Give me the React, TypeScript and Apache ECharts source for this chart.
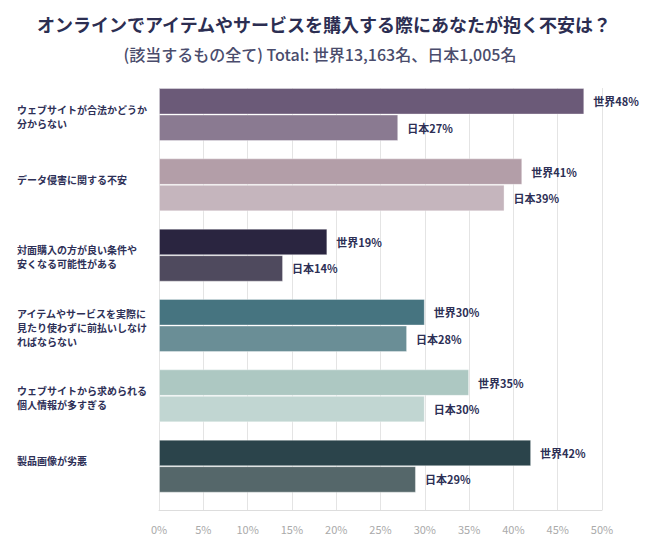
import React, { useEffect, useRef } from "react";
import * as echarts from "echarts";

const categories = [
  "ウェブサイトが合法かどうか\n分からない",
  "データ侵害に関する不安",
  "対面購入の方が良い条件や\n安くなる可能性がある",
  "アイテムやサービスを実際に\n見たり使わずに前払いしなけ\nればならない",
  "ウェブサイトから求められる\n個人情報が多すぎる",
  "製品画像が劣悪",
];
const worldValues = [48, 41, 19, 30, 35, 42];
const japanValues = [27, 39, 14, 28, 30, 29];
const worldColors = ["#6b5a78", "#b39ea8", "#2a2540", "#467480", "#adc8c2", "#2b444b"];
const japanColors = ["#8a7a91", "#c5b5bd", "#4f4a5e", "#6a8e96", "#c1d6d2", "#55676a"];
const xTicks = { min: 0, max: 50, interval: 5 };

const FONT = "'Noto Sans CJK JP', 'Noto Sans', sans-serif";

export default function App() {
  const ref = useRef<HTMLDivElement>(null);
  useEffect(() => {
    if (!ref.current) return;
    const chart = echarts.init(ref.current, null, { renderer: "svg" });
    const labelStyle = {
      show: true,
      position: "right" as const,
      distance: 9,
      color: "#2d2f55",
      fontSize: 11,
      fontWeight: "bold" as const,
      fontFamily: FONT,
    };
    chart.setOption({
      animation: false,
      backgroundColor: "#ffffff",
      textStyle: { fontFamily: FONT },
      title: [
        {
          text: "オンラインでアイテムやサービスを購入する際にあなたが抱く不安は？",
          left: 319,
          top: 10,
          textAlign: "center",
          textStyle: { fontSize: 18, fontWeight: "bold", color: "#2c2e52", fontFamily: FONT },
        },
        {
          text: "(該当するもの全て) Total: 世界13,163名、日本1,005名",
          left: 315,
          top: 41,
          textAlign: "center",
          textStyle: { fontSize: 16, fontWeight: 500, color: "#4a4c6c", fontFamily: FONT },
        },
      ],
      grid: { left: 159, right: 48, top: 88, bottom: 50, containLabel: false },
      xAxis: {
        type: "value",
        min: xTicks.min,
        max: xTicks.max,
        interval: xTicks.interval,
        axisLine: { show: true, lineStyle: { color: "#dddddd" } },
        axisTick: { show: false },
        splitLine: { show: true, lineStyle: { color: "#e4e4e4", width: 1 } },
        axisLabel: { formatter: "{value}%", color: "#aaaaaa", fontSize: 11, margin: 13, fontFamily: FONT },
      },
      yAxis: {
        type: "category",
        data: categories,
        inverse: true,
        axisLine: { show: false },
        axisTick: { show: false },
        splitLine: { show: false },
        axisLabel: {
          align: "left",
          margin: 142,
          color: "#2e3057",
          fontSize: 10,
          fontWeight: "bold",
          lineHeight: 14,
          fontFamily: FONT,
          formatter: (v: string) => (v.includes("\n") ? v + "\n " : v + "\n \n "),
        },
      },
      series: [
        {
          name: "世界",
          type: "bar",
          barWidth: 26.5,
          barGap: 0,
          data: worldValues.map((v, i) => ({ value: v, itemStyle: { color: worldColors[i] } })),
          itemStyle: { borderColor: "rgba(255,255,255,0.35)", borderWidth: 1 },
          label: { ...labelStyle, formatter: "世界{c}%" },
        },
        {
          name: "日本",
          type: "bar",
          barWidth: 26.5,
          barGap: 0,
          data: japanValues.map((v, i) => ({ value: v, itemStyle: { color: japanColors[i] } })),
          itemStyle: { borderColor: "rgba(255,255,255,0.35)", borderWidth: 1 },
          label: { ...labelStyle, formatter: "日本{c}%" },
        },
        {
          name: "spacer",
          type: "bar",
          barWidth: 17.3,
          barGap: 0,
          silent: true,
          data: categories.map(() => null),
        },
      ],
    });
    return () => chart.dispose();
  }, []);
  return (
    <div
      ref={ref}
      style={{ position: "fixed", left: 0, top: 0, width: 650, height: 560, background: "#fff" }}
    />
  );
}
